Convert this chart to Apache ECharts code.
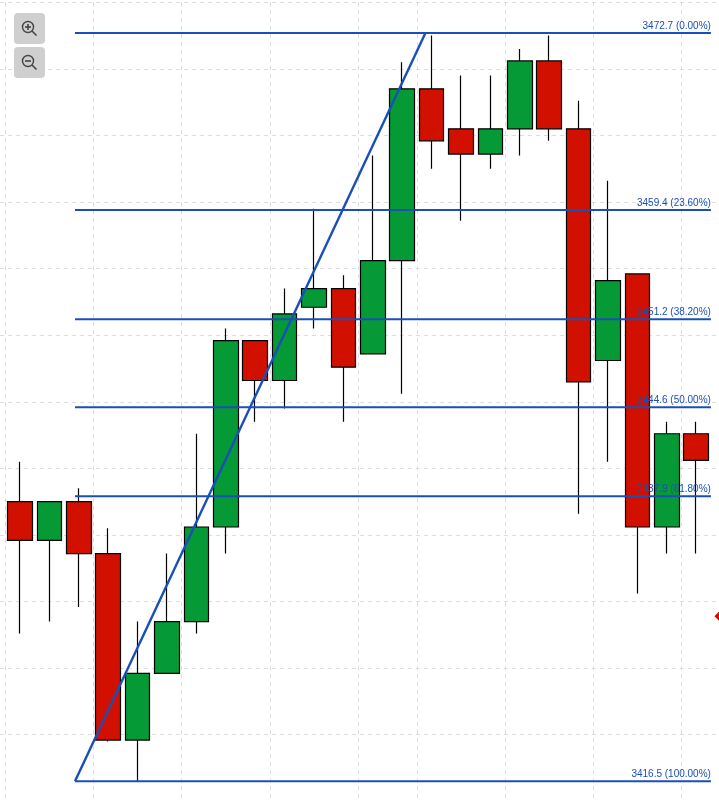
<!DOCTYPE html>
<html><head><meta charset="utf-8">
<style>html,body{margin:0;padding:0;background:#fff}#c{width:719px;height:801px}</style>
<script src="https://cdn.jsdelivr.net/npm/echarts@6/dist/echarts.min.js"></script>
</head><body><div id="c"></div>
<script>
// One empty slot on each side of the candles, so the grid runs past both canvas edges
const categories = ['', 'c1','c2','c3','c4','c5','c6','c7','c8','c9','c10','c11','c12','c13','c14','c15','c16','c17','c18','c19','c20','c21','c22','c23','c24', ''];
const opens  = [3437.5,3434.6,3437.5,3433.6,3419.6,3424.6,3428.5,3435.6,3449.6,3446.6,3452.1,3453.5,3448.6,3455.6,3468.5,3465.5,3463.6,3465.5,3470.6,3465.5,3448.1,3454.6,3435.6,3442.6];
const closes = [3434.6,3437.5,3433.6,3419.6,3424.6,3428.5,3435.6,3449.6,3446.6,3451.6,3453.5,3447.6,3455.6,3468.5,3464.6,3463.6,3465.5,3470.6,3465.5,3446.5,3454.1,3435.6,3442.6,3440.6];
const lows   = [3427.6,3428.5,3429.6,3419.5,3416.5,3424.6,3427.6,3433.6,3443.5,3444.5,3450.5,3443.5,3448.6,3445.6,3462.5,3458.6,3462.5,3463.5,3464.6,3436.6,3440.5,3430.6,3433.6,3433.6];
const highs  = [3440.5,3437.5,3438.5,3435.5,3428.5,3433.6,3442.6,3450.5,3449.6,3453.5,3459.5,3454.5,3463.5,3470.5,3472.5,3469.5,3469.5,3471.5,3472.5,3467.6,3461.6,3454.6,3443.5,3443.5];
const gridLineSlots = [1,4,7,10,13,15,18,21,24];
const fibPrices = [3472.7,3459.4,3451.2,3444.6,3437.9,3416.5];
const fibLabels = ['3472.7 (0.00%)','3459.4 (23.60%)','3451.2 (38.20%)','3444.6 (50.00%)','3437.9 (61.80%)','3416.5 (100.00%)'];
const fibStartSlot = 3.37, fibEndSlot = 25;
const trendX = [3.37,15.29];
const trendY = [3416.5,3472.7];
const markerX = [25.29], markerY = [3428.9];

const BLUE = '#1a4fb8', RED = '#d21000', GREEN = '#059a36';
const candleData = categories.map((c, i) => i === 0 || i === categories.length - 1
  ? ['-','-','-','-'] : [opens[i-1], closes[i-1], lows[i-1], highs[i-1]]);

const chart = echarts.init(document.getElementById('c'), null, {renderer:'canvas'});
const dash = {color:'#dcdcdc', type:[4,4], width:1};
chart.setOption({
  animation:false,
  backgroundColor:'#fff',
  grid:{left:-24.1, top:2.3, width:764.4, height:799, containLabel:false, outerBoundsMode:'none'},
  xAxis:[
    {type:'category', data:categories, boundaryGap:true, axisLine:{show:false}, axisTick:{show:false}, axisLabel:{show:false},
     splitLine:{show:true, lineStyle:dash, interval:(i)=>gridLineSlots.includes(i), showMinLine:true, showMaxLine:true}},
    {type:'value', min:0, max:26, show:false, splitLine:{show:false}}
  ],
  yAxis:{type:'value', min:3415, max:3475, interval:5, axisLine:{show:false}, axisTick:{show:false}, axisLabel:{show:false},
    splitLine:{show:true, lineStyle:dash, showMinLine:true, showMaxLine:true}},
  series:[
    {type:'candlestick', xAxisIndex:0, data:candleData, barWidth:25, z:2, clip:false,
     itemStyle:{color:GREEN, color0:RED, borderColor:'#000', borderColor0:'#000', borderWidth:1.2}},
    {type:'line', xAxisIndex:1, data:trendX.map((x,i)=>[x,trendY[i]]), symbol:'none', z:3, silent:true,
     lineStyle:{color:BLUE, width:2.4}},
    ...fibPrices.map((p,i)=>({type:'line', xAxisIndex:1, data:[[fibStartSlot,p],[fibEndSlot,p]], symbol:'none', z:3, silent:true,
      lineStyle:{color:BLUE, width:2},
      markPoint:{symbol:'circle', symbolSize:0, silent:true, z:4,
        data:[{coord:[fibEndSlot,p], label:{show:true, formatter:fibLabels[i], position:'insideRight', align:'right', verticalAlign:'bottom', offset:[5,-2], color:BLUE, fontSize:10, fontFamily:'Liberation Sans'}}]}
    })),
    {type:'scatter', xAxisIndex:1, data:markerX.map((x,i)=>[x,markerY[i]]), symbol:'diamond', symbolSize:[10,10], itemStyle:{color:RED, opacity:1}, z:5, silent:true}
  ],
  graphic:[
    {type:'rect', shape:{x:14,y:13,width:31,height:31,r:4}, style:{fill:'#cfcfcf'}, z:10},
    {type:'rect', shape:{x:14,y:47,width:31,height:31,r:4}, style:{fill:'#cfcfcf'}, z:10},
    {type:'circle', shape:{cx:28,cy:27,r:5.5}, style:{fill:'none',stroke:'#444',lineWidth:1.4}, z:11},
    {type:'line', shape:{x1:32,y1:31,x2:36.5,y2:35.5}, style:{stroke:'#444',lineWidth:1.6}, z:11},
    {type:'line', shape:{x1:25,y1:27,x2:31,y2:27}, style:{stroke:'#444',lineWidth:1.6}, z:11},
    {type:'line', shape:{x1:28,y1:24,x2:28,y2:30}, style:{stroke:'#444',lineWidth:1.6}, z:11},
    {type:'circle', shape:{cx:28,cy:61,r:5.5}, style:{fill:'none',stroke:'#444',lineWidth:1.4}, z:11},
    {type:'line', shape:{x1:32,y1:65,x2:36.5,y2:69.5}, style:{stroke:'#444',lineWidth:1.6}, z:11},
    {type:'line', shape:{x1:25,y1:61,x2:31,y2:61}, style:{stroke:'#444',lineWidth:1.6}, z:11}
  ]
});
</script></body></html>
